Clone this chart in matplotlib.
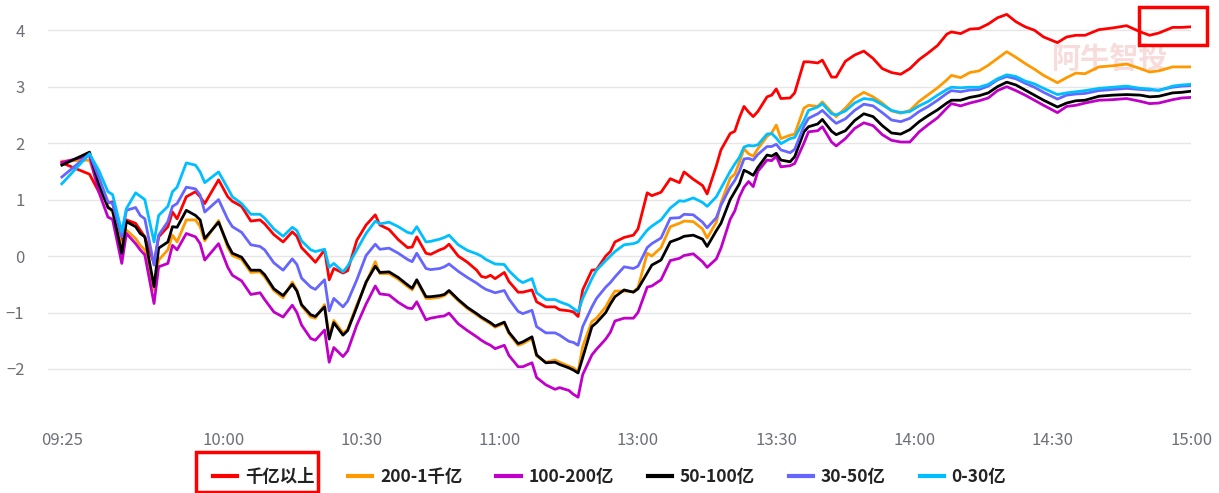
import matplotlib
matplotlib.use("Agg")
import matplotlib.pyplot as plt
from matplotlib.patches import Rectangle

plt.rcParams['font.family'] = ['Noto Sans CJK SC', 'DejaVu Sans']

# 采样时间点 (上午 09:25-11:30, 下午 13:00-15:00)
times = [
    "09:25", "09:31", "09:33", "09:35", "09:36", "09:38", "09:39", "09:41", "09:42", "09:43",
    "09:45", "09:46", "09:48", "09:49", "09:50", "09:52", "09:54", "09:55",
    "09:56", "09:59", "10:01", "10:02", "10:04", "10:06", "10:08", "10:09", "10:11", "10:13",
    "10:15", "10:16", "10:17", "10:19", "10:20", "10:22", "10:23", "10:24", "10:26", "10:27", "10:29",
    "10:31", "10:33", "10:34", "10:36", "10:38", "10:40", "10:41", "10:42", "10:44", "10:45",
    "10:47", "10:48", "10:49", "10:51", "10:53", "10:55", "10:56", "10:57", "10:58", "10:59",
    "11:01", "11:02", "11:04",
    "11:05", "11:07", "11:08", "11:10", "11:12", "11:13", "11:15", "11:16", "11:17", "11:18",
    "11:20", "11:21", "11:23", "11:24", "11:25", "11:27", "11:29", "11:30", "13:02", "13:03",
    "13:05", "13:07",
    "13:09", "13:10", "13:12", "13:14", "13:15", "13:17", "13:18", "13:20", "13:21", "13:22",
    "13:23", "13:24", "13:25", "13:26", "13:28", "13:29", "13:30", "13:31", "13:33", "13:34",
    "13:36", "13:37",
    "13:39", "13:40", "13:42", "13:43", "13:45", "13:47", "13:49", "13:51", "13:53", "13:55",
    "13:57", "13:59", "14:01", "14:03", "14:05", "14:07", "14:08", "14:10", "14:12", "14:14",
    "14:16", "14:18", "14:20",
    "14:22", "14:24", "14:26", "14:28", "14:31", "14:33", "14:35", "14:37", "14:40", "14:43",
    "14:46", "14:49", "14:51", "14:53", "14:56", "14:58", "15:00",
]

tick_labels = ["09:25", "10:00", "10:30", "11:00", "13:00", "13:30", "14:00", "14:30", "15:00"]

names = ["千亿以上", "200-1千亿", "100-200亿", "50-100亿", "30-50亿", "0-30亿"]
colors = ["#ff0000", "#ff9900", "#c000c8", "#000000", "#6666ff", "#00bfff"]

qianyi = [
    1.65, 1.45, 1.14, 0.94, 0.96, 0.25, 0.64, 0.58, 0.46, 0.34, -0.13, 0.34, 0.52, 0.78, 0.66, 1.05, 1.14, 1.05,
    0.93, 1.35, 1.05, 0.97, 0.88, 0.62, 0.64, 0.57, 0.38, 0.25, 0.43, 0.35, 0.15, -0.02, -0.11, 0.11, -0.42, -0.22, -0.30, -0.26, 0.28,
    0.55, 0.73, 0.55, 0.47, 0.29, 0.15, 0.16, 0.34, 0.05, 0.03, 0.11, 0.14, 0.21, 0.00, -0.11, -0.25, -0.36, -0.38, -0.34, -0.40, -0.29, -0.45, -0.64,
    -0.64, -0.60, -0.81, -0.90, -0.90, -0.95, -0.97, -0.99, -1.07, -0.60, -0.25, -0.24, 0.00, 0.08, 0.25, 0.33, 0.37, 0.48, 1.12, 1.07, 1.13, 1.37,
    1.30, 1.49, 1.36, 1.25, 1.10, 1.60, 1.88, 2.17, 2.21, 2.45, 2.65, 2.55, 2.47, 2.56, 2.82, 2.85, 2.96, 2.79, 2.80, 2.89, 3.44, 3.44,
    3.42, 3.47, 3.17, 3.17, 3.45, 3.56, 3.63, 3.50, 3.32, 3.25, 3.22, 3.32, 3.48, 3.60, 3.73, 3.93, 3.97, 3.94, 4.02, 4.03, 4.11, 4.22, 4.28,
    4.15, 4.06, 4.00, 3.88, 3.78, 3.88, 3.91, 3.91, 4.01, 4.04, 4.08, 3.97, 3.91, 3.95, 4.05, 4.05, 4.06,
]

s200_1000 = [
    1.68, 1.70, 1.22, 0.88, 0.78, 0.16, 0.46, 0.31, 0.19, 0.11, -0.60, -0.07, 0.11, 0.37, 0.25, 0.64, 0.64, 0.52,
    0.27, 0.63, 0.15, 0.01, -0.06, -0.29, -0.28, -0.37, -0.61, -0.74, -0.46, -0.60, -0.88, -1.08, -1.10, -0.86, -1.42, -1.14, -1.36, -1.30, -0.86,
    -0.48, -0.10, -0.31, -0.31, -0.41, -0.54, -0.60, -0.44, -0.75, -0.75, -0.73, -0.70, -0.63, -0.79, -0.93, -1.04, -1.10, -1.15, -1.20, -1.26, -1.19, -1.37, -1.58,
    -1.55, -1.46, -1.77, -1.88, -1.84, -1.88, -1.95, -1.98, -2.05, -1.60, -1.16, -1.10, -0.90, -0.75, -0.62, -0.62, -0.63, -0.56, 0.05, 0.00, 0.15, 0.52,
    0.58, 0.62, 0.61, 0.48, 0.32, 0.60, 0.94, 1.38, 1.45, 1.66, 1.90, 1.81, 1.77, 1.90, 2.12, 2.18, 2.32, 2.08, 2.14, 2.16, 2.62, 2.67,
    2.65, 2.73, 2.55, 2.47, 2.62, 2.80, 2.90, 2.82, 2.71, 2.57, 2.53, 2.58, 2.74, 2.86, 2.98, 3.12, 3.20, 3.16, 3.25, 3.28, 3.38, 3.50, 3.62,
    3.52, 3.41, 3.31, 3.20, 3.07, 3.16, 3.24, 3.23, 3.35, 3.37, 3.40, 3.32, 3.26, 3.28, 3.35, 3.35, 3.35,
]

s100_200 = [
    1.66, 1.78, 1.14, 0.69, 0.65, -0.13, 0.40, 0.22, 0.11, 0.02, -0.84, -0.19, -0.13, 0.19, 0.11, 0.40, 0.34, 0.22,
    -0.07, 0.22, -0.20, -0.34, -0.44, -0.68, -0.65, -0.77, -0.99, -1.08, -0.87, -1.00, -1.22, -1.46, -1.49, -1.31, -1.88, -1.62, -1.78, -1.68, -1.22,
    -0.85, -0.53, -0.67, -0.69, -0.82, -0.92, -0.93, -0.81, -1.13, -1.10, -1.07, -1.06, -1.01, -1.20, -1.32, -1.43, -1.49, -1.54, -1.58, -1.64, -1.58, -1.76, -1.96,
    -1.96, -1.89, -2.15, -2.28, -2.36, -2.33, -2.38, -2.45, -2.50, -2.10, -1.75, -1.65, -1.47, -1.35, -1.15, -1.10, -1.10, -1.00, -0.55, -0.53, -0.42, -0.08,
    -0.04, 0.01, 0.04, -0.10, -0.20, -0.05, 0.14, 0.65, 0.80, 1.05, 1.22, 1.32, 1.23, 1.50, 1.70, 1.69, 1.77, 1.58, 1.60, 1.64, 2.00, 2.20,
    2.22, 2.29, 2.02, 1.95, 2.08, 2.26, 2.36, 2.31, 2.15, 2.05, 2.02, 2.02, 2.20, 2.33, 2.45, 2.62, 2.70, 2.66, 2.71, 2.75, 2.80, 2.93, 3.00,
    2.93, 2.85, 2.76, 2.67, 2.54, 2.65, 2.67, 2.71, 2.76, 2.77, 2.79, 2.74, 2.70, 2.71, 2.77, 2.80, 2.81,
]

s50_100 = [
    1.61, 1.84, 1.28, 0.86, 0.81, 0.05, 0.61, 0.52, 0.40, 0.34, -0.54, 0.14, 0.25, 0.52, 0.51, 0.81, 0.72, 0.64,
    0.31, 0.60, 0.20, 0.05, -0.02, -0.25, -0.25, -0.33, -0.58, -0.70, -0.50, -0.62, -0.86, -1.04, -1.07, -0.90, -1.47, -1.18, -1.40, -1.32, -0.90,
    -0.46, -0.18, -0.29, -0.28, -0.38, -0.51, -0.57, -0.42, -0.72, -0.72, -0.70, -0.68, -0.61, -0.77, -0.91, -1.02, -1.08, -1.13, -1.18, -1.24, -1.17, -1.35, -1.55,
    -1.52, -1.43, -1.75, -1.89, -1.88, -1.92, -1.98, -2.02, -2.07, -1.80, -1.25, -1.18, -1.00, -0.85, -0.72, -0.60, -0.64, -0.58, -0.30, -0.16, -0.07, 0.25,
    0.31, 0.35, 0.37, 0.30, 0.17, 0.45, 0.58, 1.00, 1.14, 1.28, 1.52, 1.48, 1.43, 1.57, 1.79, 1.77, 1.82, 1.70, 1.67, 1.76, 2.20, 2.29,
    2.34, 2.42, 2.21, 2.15, 2.22, 2.40, 2.52, 2.47, 2.31, 2.18, 2.16, 2.24, 2.38, 2.49, 2.59, 2.71, 2.76, 2.76, 2.81, 2.84, 2.89, 3.00, 3.08,
    3.03, 2.94, 2.85, 2.76, 2.64, 2.71, 2.75, 2.76, 2.83, 2.85, 2.86, 2.85, 2.82, 2.83, 2.89, 2.90, 2.92,
]

s30_50 = [
    1.40, 1.81, 1.40, 0.96, 0.93, 0.34, 0.81, 0.86, 0.72, 0.66, -0.16, 0.37, 0.61, 0.88, 0.93, 1.22, 1.19, 1.08,
    0.78, 1.00, 0.65, 0.52, 0.42, 0.20, 0.17, 0.11, -0.12, -0.25, -0.05, -0.15, -0.39, -0.55, -0.59, -0.42, -0.97, -0.75, -0.90, -0.80, -0.42,
    0.01, 0.21, 0.12, 0.14, 0.05, -0.06, -0.10, 0.05, -0.22, -0.24, -0.22, -0.19, -0.14, -0.27, -0.38, -0.48, -0.54, -0.59, -0.62, -0.65, -0.61, -0.76, -0.98,
    -1.02, -0.96, -1.25, -1.36, -1.36, -1.40, -1.51, -1.53, -1.58, -1.25, -0.90, -0.75, -0.55, -0.47, -0.37, -0.19, -0.22, -0.18, 0.15, 0.22, 0.32, 0.67,
    0.68, 0.74, 0.73, 0.60, 0.50, 0.68, 0.90, 1.22, 1.34, 1.50, 1.72, 1.73, 1.70, 1.80, 1.94, 1.94, 1.98, 1.88, 1.83, 1.89, 2.30, 2.44,
    2.52, 2.58, 2.42, 2.35, 2.43, 2.58, 2.69, 2.66, 2.54, 2.41, 2.38, 2.44, 2.56, 2.65, 2.76, 2.88, 2.93, 2.91, 2.94, 2.95, 3.01, 3.12, 3.18,
    3.14, 3.06, 2.99, 2.90, 2.78, 2.85, 2.87, 2.88, 2.93, 2.95, 2.97, 2.95, 2.94, 2.94, 2.99, 3.01, 3.02,
]

s0_30 = [
    1.28, 1.81, 1.52, 1.14, 1.09, 0.43, 0.84, 1.12, 1.06, 1.00, 0.25, 0.72, 0.88, 1.14, 1.22, 1.65, 1.61, 1.49,
    1.30, 1.49, 1.20, 1.05, 0.93, 0.74, 0.74, 0.67, 0.48, 0.35, 0.51, 0.45, 0.27, 0.11, 0.08, 0.12, -0.20, -0.13, -0.28, -0.18, 0.11,
    0.40, 0.62, 0.57, 0.60, 0.52, 0.42, 0.40, 0.52, 0.25, 0.26, 0.30, 0.33, 0.37, 0.20, 0.10, 0.04, 0.00, -0.06, -0.10, -0.14, -0.15, -0.26, -0.42,
    -0.47, -0.40, -0.65, -0.77, -0.77, -0.81, -0.87, -0.93, -0.99, -0.75, -0.40, -0.25, -0.08, 0.00, 0.08, 0.20, 0.22, 0.25, 0.46, 0.53, 0.64, 0.85,
    0.98, 0.97, 1.03, 0.95, 0.88, 1.05, 1.20, 1.50, 1.63, 1.75, 1.93, 1.96, 1.95, 1.97, 2.16, 2.17, 2.09, 1.99, 2.08, 2.10, 2.40, 2.58,
    2.64, 2.70, 2.52, 2.50, 2.57, 2.71, 2.79, 2.77, 2.68, 2.58, 2.54, 2.56, 2.66, 2.74, 2.85, 2.95, 2.99, 2.98, 2.99, 2.99, 3.04, 3.14, 3.21,
    3.18, 3.10, 3.05, 2.97, 2.86, 2.89, 2.91, 2.93, 2.97, 2.99, 3.01, 2.97, 2.96, 2.93, 3.01, 3.03, 3.04,
]

series = [qianyi, s200_1000, s100_200, s50_100, s30_50, s0_30]


def to_idx(t):  # 分钟序号, 午休压缩 (11:30 与 13:00 重合)
    h, m = map(int, t.split(":"))
    mins = h * 60 + m
    if mins <= 11 * 60 + 30:
        return mins - (9 * 60 + 25)
    return 125 + mins - 13 * 60


x = [to_idx(t) for t in times]

fig = plt.figure(figsize=(12.19, 4.93), dpi=100)
ax = fig.add_axes([0.0394, 0.137, 0.9377, 0.859])

for vals, name, c in zip(series, names, colors):
    ax.plot(x, vals, color=c, lw=2.0, label=name, solid_joinstyle='round', zorder=3)

ax.set_xlim(-3, 245)
ax.set_ylim(-3, 4.5)
ax.set_yticks([-2, -1, 0, 1, 2, 3, 4])
ax.set_xticks([to_idx(t) if t != "13:00" else 125 for t in tick_labels])
ax.set_xticklabels(tick_labels)
ax.tick_params(axis='both', length=0, colors='#6e7079', labelsize=12)
ax.tick_params(axis='y', pad=17)
ax.tick_params(axis='x', pad=5)
ax.grid(axis='y', color='#e6e6e6', lw=1)
ax.set_axisbelow(True)
for sp in ax.spines.values():
    sp.set_visible(False)

# 水印
ax.text(1110 / 1219, 1 - 59 / 493, "阿牛智投", transform=fig.transFigure, fontsize=21,
        color='#f8dcdc', ha='center', va='center', fontweight='bold', zorder=1)

leg = fig.legend(loc='center', bbox_to_anchor=(0.5, 1 - 477 / 493), ncol=6, frameon=False,
                 handlelength=1.4, handletextpad=0.45, columnspacing=1.95,
                 prop={'size': 12.5, 'weight': 'bold'})
for line in leg.get_lines():
    line.set_linewidth(3)
for t in leg.get_texts():
    t.set_color('#222222')

# 红框标注
fig.add_artist(Rectangle((196 / 1219, 1 - 492 / 493), 122 / 1219, 40 / 493,
                         transform=fig.transFigure, fill=False, edgecolor='#ff0000', lw=2.5))
fig.add_artist(Rectangle((1139 / 1219, 1 - 45 / 493), 68 / 1219, 38 / 493,
                         transform=fig.transFigure, fill=False, edgecolor='#ff0000', lw=2.5))

fig.savefig("out.png", dpi=100)
